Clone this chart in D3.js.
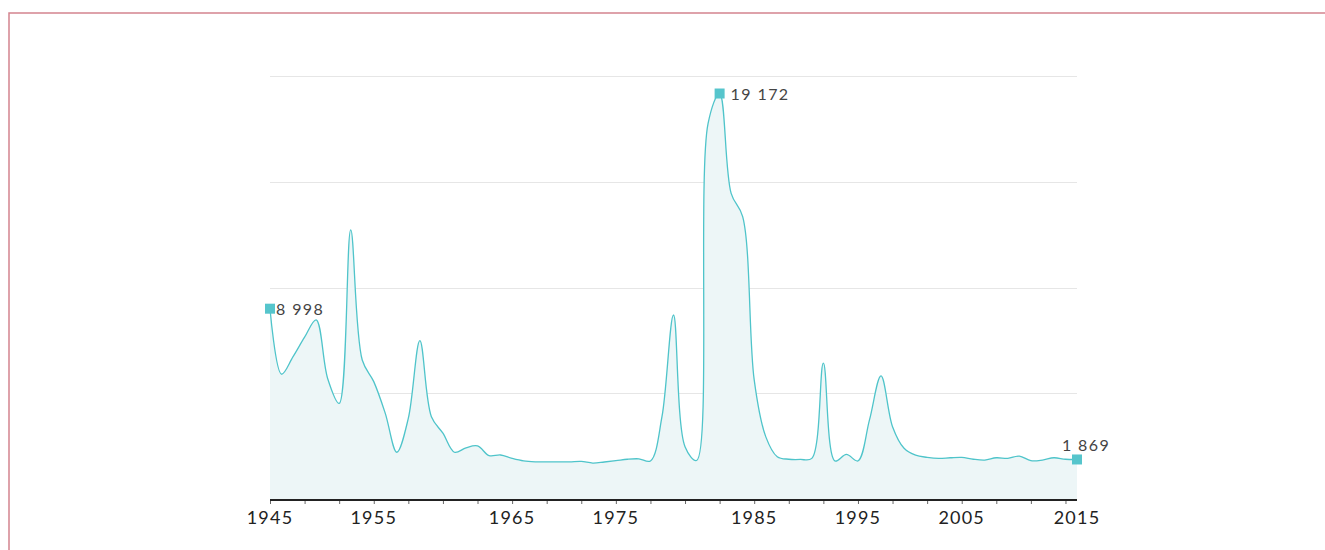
<!DOCTYPE html>
<html>
<head>
<meta charset="utf-8">
<script src="https://cdn.jsdelivr.net/npm/d3@7/dist/d3.min.js"></script>
<style>
    body { margin: 0; background: #fff; }
    svg { display: block; font-family: Lato, "Open Sans", sans-serif; }
</style>
</head>
<body>
<div id="chart"></div>
<script>
// Yearly values
const years = d3.range(1945, 2016);
const values = [
    8998, 5900, 6730, 7650, 8470, 5700, 4520, 12720, 6570, 5550,
    4050, 2210, 3820, 7490, 3890, 3110, 2210, 2420, 2510, 2050,
    2080, 1920, 1800, 1760, 1760, 1760, 1760, 1780, 1700, 1750,
    1810, 1880, 1900, 1800, 3890, 8700, 2470, 1820, 17760, 19172,
    14450, 13350, 5630, 2950, 2000, 1880, 1870, 1920, 6420, 1800,
    2110, 1800, 3740, 5820, 3420, 2400, 2070, 1970, 1920, 1950,
    1970, 1880, 1840, 1950, 1920, 2030, 1810, 1840, 1950, 1880,
    1869
];
const gridValues = [5000, 10000, 15000, 20000];
const tickYears = d3.range(1945, 2015, 3);
const tickLabels = ["1945", "1955", "1965", "1975", "1985", "1995", "2005", "2015"];
const tickLabelAt = [1945, 1954, 1966, 1975, 1987, 1996, 2005, 2015];
const labelledYears = [1945, 1984, 2015];

const config = {
    width: 1325,
    height: 550,
    left: 270,
    right: 1077,
    top: 76,
    bottom: 499,
    lineColor: "#4fc4ca",
    areaColor: "#edf6f7",
    gridColor: "#e6e6e6",
    borderColor: "#d4848e"
};

const data = years.map((y, i) => ({ year: y, value: values[i] }));

const svg = d3.select("#chart").append("svg")
    .attr("width", config.width)
    .attr("height", config.height);

// frame around the page
svg.append("rect")
    .attr("x", 9)
    .attr("y", 13)
    .attr("width", 2000)
    .attr("height", 1000)
    .attr("fill", "none")
    .attr("stroke", config.borderColor)
    .attr("stroke-width", 1.5);

const xScale = d3.scaleLinear()
    .domain([1945, 2015])
    .range([config.left, config.right]);

const yScale = d3.scaleLinear()
    .domain([0, 20000])
    .range([config.bottom, config.top]);

// grid lines
svg.append("g")
    .selectAll("line")
    .data(gridValues)
    .join("line")
        .attr("x1", config.left)
        .attr("x2", config.right)
        .attr("y1", d => Math.round(yScale(d)) + 0.5)
        .attr("y2", d => Math.round(yScale(d)) + 0.5)
        .attr("stroke", config.gridColor)
        .attr("stroke-width", 1);

const curve = d3.curveCatmullRom.alpha(0.5);

const area = d3.area()
    .x(d => xScale(d.year))
    .y0(yScale(0))
    .y1(d => yScale(d.value))
    .curve(curve);

const line = d3.line()
    .x(d => xScale(d.year))
    .y(d => yScale(d.value))
    .curve(curve);

svg.append("path")
    .datum(data)
    .attr("d", area)
    .attr("fill", config.areaColor);

svg.append("path")
    .datum(data)
    .attr("d", line)
    .attr("fill", "none")
    .attr("stroke", config.lineColor)
    .attr("stroke-width", 1.3);

// x axis: ticks every 3 years, labels drawn separately
const xAxis = d3.axisBottom(xScale)
    .tickValues(tickYears)
    .tickSize(4)
    .tickSizeOuter(0)
    .tickFormat("");

const xAxisG = svg.append("g")
    .attr("transform", `translate(0,${config.bottom})`)
    .call(xAxis);

xAxisG.select(".domain")
    .attr("stroke", "#222")
    .attr("stroke-width", 2)
    .attr("d", `M${config.left},1H${config.right}`);
xAxisG.selectAll(".tick line")
    .attr("stroke", "#666")
    .attr("y1", 2)
    .attr("y2", 5);

svg.append("g")
    .selectAll("text")
    .data(tickLabels)
    .join("text")
        .attr("x", (d, i) => xScale(tickLabelAt[i]))
        .attr("y", config.bottom + 25)
        .attr("text-anchor", "middle")
        .attr("font-size", 18)
        .attr("letter-spacing", 1.2)
        .attr("fill", "#222")
        .text(d => d);

// value markers and labels
const fmt = v => d3.format(",")(v).replace(/,/g, " ");
const labelled = data.filter(d => labelledYears.includes(d.year));

svg.append("g")
    .selectAll("rect")
    .data(labelled)
    .join("rect")
        .attr("x", d => xScale(d.year) - 5)
        .attr("y", d => yScale(d.value) - 5)
        .attr("width", 10)
        .attr("height", 10)
        .attr("fill", "#56c5cc");

svg.append("g")
    .selectAll("text")
    .data(labelled)
    .join("text")
        .attr("x", (d, i) => xScale(d.year) + (i === 0 ? 6 : i === 1 ? 11 : 9))
        .attr("y", (d, i) => yScale(d.value) + (i === 2 ? -8 : 6))
        .attr("text-anchor", (d, i) => i === 2 ? "middle" : "start")
        .attr("font-size", 16)
        .attr("letter-spacing", 1.4)
        .attr("fill", "#444")
        .text(d => fmt(d.value));
</script>
</body>
</html>
